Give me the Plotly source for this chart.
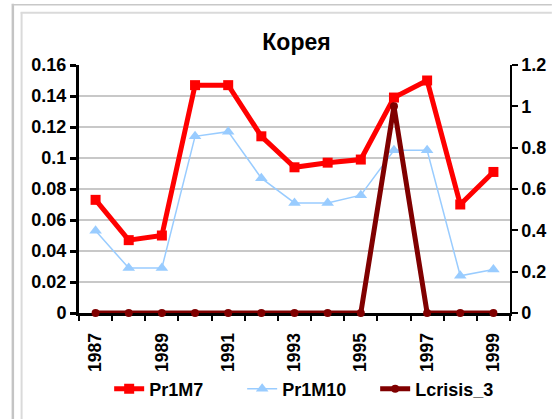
import plotly.graph_objects as go

years = list(range(1987, 2000))
pr1m7 = [0.073, 0.047, 0.050, 0.147, 0.147, 0.114, 0.094, 0.097, 0.099, 0.139, 0.150, 0.070, 0.091]
pr1m10 = [0.053, 0.029, 0.029, 0.114, 0.117, 0.087, 0.071, 0.071, 0.076, 0.105, 0.105, 0.024, 0.028]
lcrisis = [0, 0, 0, 0, 0, 0, 0, 0, 0, 1, 0, 0, 0]

x_tickvals = [1987, 1989, 1991, 1993, 1995, 1997, 1999]
x_ticktext = ["1987", "1989", "1991", "1993", "1995", "1997", "1999"]
y_tickvals = [0, 0.02, 0.04, 0.06, 0.08, 0.1, 0.12, 0.14, 0.16]
y_ticktext = ["0", "0.02", "0.04", "0.06", "0.08", "0.1", "0.12", "0.14", "0.16"]
y2_tickvals = [0, 0.2, 0.4, 0.6, 0.8, 1.0, 1.2]
y2_ticktext = ["0", "0.2", "0.4", "0.6", "0.8", "1", "1.2"]

FONT = "Liberation Sans, Arial, sans-serif"

fig = go.Figure()
fig.add_trace(go.Scatter(
    x=years, y=pr1m7, name="Pr1M7", mode="lines+markers",
    line=dict(color="#FF0000", width=5),
    marker=dict(symbol="square", size=10, color="#FF0000"),
    cliponaxis=False,
))
fig.add_trace(go.Scatter(
    x=years, y=pr1m10, name="Pr1M10", mode="lines+markers",
    line=dict(color="#99CCFF", width=1.5),
    marker=dict(symbol="triangle-up", size=11, color="#99CCFF"),
    cliponaxis=False,
))
fig.add_trace(go.Scatter(
    x=years, y=lcrisis, name="Lcrisis_3", mode="lines+markers",
    line=dict(color="#800000", width=5),
    marker=dict(symbol="circle", size=8, color="#800000"),
    yaxis="y2", cliponaxis=False,
))

L, R, T, B = 79, 522, 65, 316
W, H = 558, 419


def px(x):
    return (x - L) / (R - L)


def py(y):
    return (B - y) / (B - T)


shapes = [
    dict(type="line", xref="paper", yref="paper", x0=px(11), x1=px(11), y0=py(3), y1=py(425),
         line=dict(color="#C4C4C4", width=2.5)),
    dict(type="line", xref="paper", yref="paper", x0=px(10), x1=px(565), y0=py(4), y1=py(4),
         line=dict(color="#C8C8C8", width=1.5)),
    dict(type="line", xref="paper", yref="paper", x0=px(20), x1=px(20), y0=py(11.5), y1=py(425),
         line=dict(color="#DADADA", width=2)),
    dict(type="line", xref="paper", yref="paper", x0=px(19), x1=px(565), y0=py(12), y1=py(12),
         line=dict(color="#DADADA", width=2)),
]

fig.update_layout(
    width=W, height=H,
    margin=dict(l=L, r=W - R, t=T, b=H - B),
    paper_bgcolor="white", plot_bgcolor="white",
    font=dict(family=FONT, color="black", size=16),
    showlegend=True,
    title=dict(text="Корея", x=296.5 / W, xref="container", xanchor="center",
               y=1 - 42 / H, yref="container", yanchor="middle",
               font=dict(family=FONT, size=23, weight="bold", color="black")),
    legend=dict(orientation="h", x=px(110), xanchor="left", y=py(393), yanchor="middle",
                font=dict(family=FONT, size=18, weight="bold", color="black"),
                bgcolor="rgba(0,0,0,0)", itemwidth=30, tracegroupgap=0,
                entrywidth=88, entrywidthmode="pixels"),
    xaxis=dict(
        range=[1986.5, 1999.5], tickmode="array", tickvals=x_tickvals, ticktext=x_ticktext,
        tickangle=-90, ticks="outside", ticklen=10, tickcolor="rgba(0,0,0,0)",
        tickfont=dict(family=FONT, size=17.5, weight="bold", color="black"),
        showline=True, linecolor="black", linewidth=3, showgrid=False, zeroline=False,
        layer="below traces",
        minor=dict(tickmode="linear", tick0=1986.5, dtick=1, ticks="outside", ticklen=5,
                   tickwidth=2, tickcolor="black", showgrid=False),
    ),
    yaxis=dict(
        range=[0, 0.16], tickmode="array", tickvals=y_tickvals, ticktext=y_ticktext,
        ticks="outside", ticklen=6, tickwidth=3, tickcolor="black",
        tickfont=dict(family=FONT, size=18, weight="bold", color="black"),
        showline=True, linecolor="black", linewidth=3,
        showgrid=True, gridcolor="#C8C8C8", gridwidth=1.5, zeroline=False,
        layer="below traces",
    ),
    yaxis2=dict(
        range=[0, 1.2], tickmode="array", tickvals=y2_tickvals, ticktext=y2_ticktext,
        overlaying="y", side="right",
        ticks="outside", ticklen=6, tickwidth=1.5, tickcolor="black",
        tickfont=dict(family=FONT, size=18, weight="bold", color="black"),
        showline=True, linecolor="black", linewidth=1.5,
        showgrid=False, zeroline=False, layer="below traces",
    ),
    shapes=shapes,
)

fig.write_html("out.html")
